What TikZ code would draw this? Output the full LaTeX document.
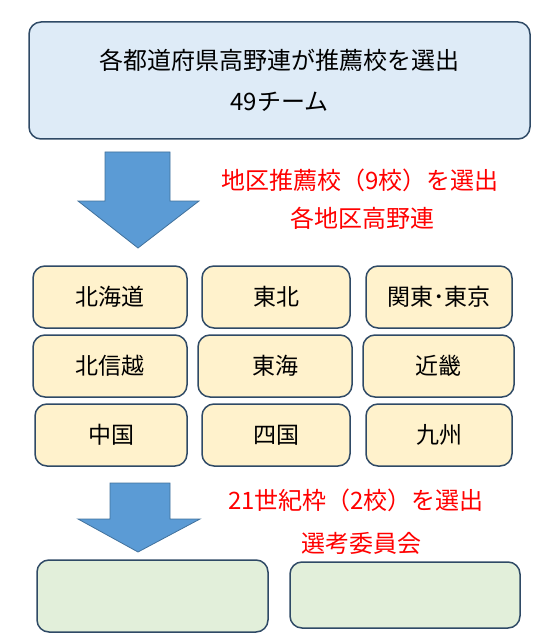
\documentclass[tikz,border=0pt]{standalone}
\usepackage{fontspec}
\setmainfont{Noto Sans CJK JP}
\definecolor{boxline}{HTML}{2F4A66}
\definecolor{topfill}{HTML}{DEEBF7}
\definecolor{areafill}{HTML}{FFF2CC}
\definecolor{lastfill}{HTML}{E2EFDA}
\definecolor{arrowfill}{HTML}{5B9BD5}
\definecolor{arrowline}{HTML}{41719C}
\begin{document}
\begin{tikzpicture}[x=1pt, y=-1pt,
  box/.style={draw=boxline, line width=1.5pt, rounded corners=12pt, inner sep=0pt},
  areabox/.style={box, fill=areafill, minimum height=62pt},
  lastbox/.style={box, fill=lastfill},
  note/.style={text=red, font=\fontsize{24}{28}\selectfont},
  label/.style={font=\fontsize{23}{26}\selectfont},
  blockarrow/.style={fill=arrowfill, draw=arrowline, line width=0.8pt}]
  \useasboundingbox (0,0) rectangle (548,639);

  % Top box
  \node[box, fill=topfill, minimum width=501pt, minimum height=117pt,
        align=center, font=\fontsize{24}{41}\selectfont] (pref) at (279.5,80.5)
        {各都道府県高野連が推薦校を選出\\49チーム};

  % First arrow
  \draw[blockarrow] (105,152) -- (170,152) -- (170,201) -- (199,201)
    -- (138,248) -- (78,201) -- (105,201) -- cycle;
  \node[note] (step1) at (360,180) {地区推薦校（9校）を選出};
  \node[note] (who1) at (362,218) {各地区高野連};

  % Regions
  \node[areabox, minimum width=154pt] (hokkaido) at (110,297) {};
  \node[areabox, minimum width=148pt] (tohoku) at (276,297) {};
  \node[areabox, minimum width=146pt] (kanto) at (439,297) {};
  \node[areabox, minimum width=154pt] (hokushinetsu) at (110,366) {};
  \node[areabox, minimum width=154pt] (tokai) at (275,366) {};
  \node[areabox, minimum width=151pt] (kinki) at (438.5,366) {};
  \node[areabox, minimum width=152pt] (chugoku) at (111,435) {};
  \node[areabox, minimum width=148pt] (shikoku) at (276,435) {};
  \node[areabox, minimum width=146pt] (kyushu) at (439,435) {};

  \node[label] at (hokkaido) {北海道};
  \node[label] at (tohoku) {東北};
  \node[label] at (kanto) {関東･東京};
  \node[label] at (hokushinetsu) {北信越};
  \node[label] at (tokai) {東海};
  \node[label] at (kinki) {近畿};
  \node[label] at (chugoku) {中国};
  \node[label] at (shikoku) {四国};
  \node[label] at (kyushu) {九州};

  % Second arrow
  \draw[blockarrow] (110,483) -- (170,483) -- (170,519) -- (200,519)
    -- (138,552) -- (78,519) -- (110,519) -- cycle;
  \node[note] (step2) at (356,500) {21世紀枠（2校）を選出};
  \node[note] (who2) at (361,543) {選考委員会};

  % Bottom boxes
  \node[lastbox, minimum width=231pt, minimum height=72pt] (pick1) at (152.5,596) {};
  \node[lastbox, minimum width=230pt, minimum height=66pt] (pick2) at (405,595) {};
\end{tikzpicture}
\end{document}
